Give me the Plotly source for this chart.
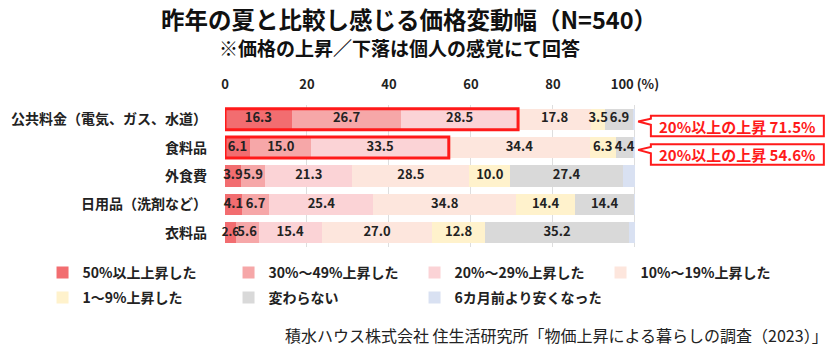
import plotly.graph_objects as go

categories = ["公共料金（電気、ガス、水道）", "食料品", "外食費", "日用品（洗剤など）", "衣料品"]
series_names = ["50%以上上昇した", "30%～49%上昇した", "20%～29%上昇した", "10%～19%上昇した",
                "1～9%上昇した", "変わらない", "6カ月前より安くなった"]
s_50 = [16.3, 6.1, 3.9, 4.1, 2.6]
s_30 = [26.7, 15.0, 5.9, 6.7, 5.6]
s_20 = [28.5, 33.5, 21.3, 25.4, 15.4]
s_10 = [17.8, 34.4, 28.5, 34.8, 27.0]
s_1 = [3.5, 6.3, 10.0, 14.4, 12.8]
s_same = [6.9, 4.4, 27.4, 14.4, 35.2]
s_down = [0.3, 0.3, 3.0, 0.2, 1.4]
series_values = [s_50, s_30, s_20, s_10, s_1, s_same, s_down]
colors = ["#f26d70", "#f6a7a8", "#fbd3d6", "#fde6dd", "#fff2cc", "#d9d9d9", "#d9e1f2"]
legend_rows = ["legend", "legend", "legend", "legend", "legend2", "legend2", "legend2"]
labelled_series = 6  # the last series carries no value labels
tick_vals = [0, 20, 40, 60, 80, 100]
tick_text = ["0", "20", "40", "60", "80", "100 (%)"]
highlight_rows = [0, 1]

FONT = "Noto Sans CJK JP"
RED = "#ff1a1a"
XMAX = 147.6

fig = go.Figure()
ypos = list(range(len(categories)))
for name, vals, col, lg in zip(series_names, series_values, colors, legend_rows):
    fig.add_trace(go.Bar(
        y=ypos, x=vals, name=name, orientation="h", legend=lg,
        marker=dict(color=col, line=dict(width=0)),
        width=0.74, hoverinfo="skip",
    ))

# value labels on top of all segments, at segment centres
lx, ly, lt, ls = [], [], [], []
for r in ypos:
    base = 0.0
    for k, vals in enumerate(series_values):
        v = vals[r]
        if k < labelled_series:
            lx.append(base + v / 2)
            ly.append(r)
            lt.append(f"{v:.1f}")
            ls.append(11.5 if v < 3 else 13)
        base += v
fig.add_trace(go.Scatter(
    x=lx, y=ly, text=lt, mode="text", showlegend=False, hoverinfo="skip", cliponaxis=False,
    textposition="middle center",
    textfont=dict(family=FONT, size=ls, color="#222222", weight="bold"),
))

# red outlines and callouts for the highlighted rows
for r in highlight_rows:
    tot = round(s_50[r] + s_30[r] + s_20[r], 1)
    fig.add_shape(type="rect", xref="x", yref="y", x0=0, x1=tot, y0=r - 0.37, y1=r + 0.37,
                  line=dict(color=RED, width=3), fillcolor="rgba(0,0,0,0)", layer="above")
    bx0, bx1 = 103.9, 146.1
    by0, by1 = r - 0.12, r + 0.6
    tipx, tipy = 100.8, r + 0.08
    w0, w1 = r - 0.02, r + 0.2
    path = (f"M {bx0},{w0} L {bx0},{by0} L {bx1},{by0} L {bx1},{by1} L {bx0},{by1} "
            f"L {bx0},{w1} L {tipx},{tipy} Z")
    fig.add_shape(type="path", xref="x", yref="y", path=path,
                  line=dict(color=RED, width=2), fillcolor="white", layer="above")
    fig.add_annotation(x=(bx0 + bx1) / 2, y=(by0 + by1) / 2, xref="x", yref="y",
                       text=f"20%以上の上昇 {tot}%", showarrow=False,
                       font=dict(family=FONT, size=15, color=RED, weight="bold"))

fig.add_annotation(x=0.304, y=1.605, xref="paper", yref="paper", xanchor="center", yanchor="middle",
                   text="昨年の夏と比較し感じる価格変動幅（N=540）", showarrow=False,
                   font=dict(family=FONT, size=23.5, color="#111111", weight="bold"))
fig.add_annotation(x=0.289, y=1.405, xref="paper", yref="paper", xanchor="center", yanchor="middle",
                   text="※価格の上昇／下落は個人の感覚にて回答", showarrow=False,
                   font=dict(family=FONT, size=19, color="#111111", weight="bold"))
fig.add_annotation(x=1.0, y=-0.62, xref="paper", yref="paper", xanchor="right", yanchor="middle",
                   text="積水ハウス株式会社 住生活研究所「物価上昇による暮らしの調査（2023）」", showarrow=False,
                   font=dict(family=FONT, size=16, color="#222222"))

legend_common = dict(orientation="h", xanchor="left", yanchor="top",
                     entrywidth=141, entrywidthmode="pixels", traceorder="normal",
                     font=dict(family=FONT, size=14, color="#222222", weight="bold"),
                     bgcolor="rgba(0,0,0,0)", itemclick=False, itemdoubleclick=False)

fig.update_layout(
    width=840, height=362,
    margin=dict(l=225, r=10, t=105, b=115, autoexpand=False),
    barmode="stack", bargap=0.26,
    paper_bgcolor="white", plot_bgcolor="white",
    font=dict(family=FONT, color="#222222"),
    showlegend=True,
    legend=dict(x=-0.3016, y=-0.070, **legend_common),
    legend2=dict(x=-0.3016, y=-0.246, **legend_common),
    xaxis=dict(side="top", range=[0, XMAX], tickvals=tick_vals, ticktext=tick_text,
               showgrid=True, gridcolor="#dedede", gridwidth=1, zeroline=False,
               showline=False, ticks="", ticklabelstandoff=12, automargin=False,
               tickfont=dict(family=FONT, size=13, color="#222222", weight="bold")),
    yaxis=dict(range=[len(categories) - 0.5, -0.5], tickvals=ypos, ticktext=categories,
               showgrid=False, zeroline=False, showline=False, ticks="", ticklabelstandoff=17,
               automargin=False,
               tickfont=dict(family=FONT, size=14, color="#222222", weight="bold")),
)

fig.write_html("out.html", config={"displayModeBar": False},
               post_script="document.body.style.margin='0';")
